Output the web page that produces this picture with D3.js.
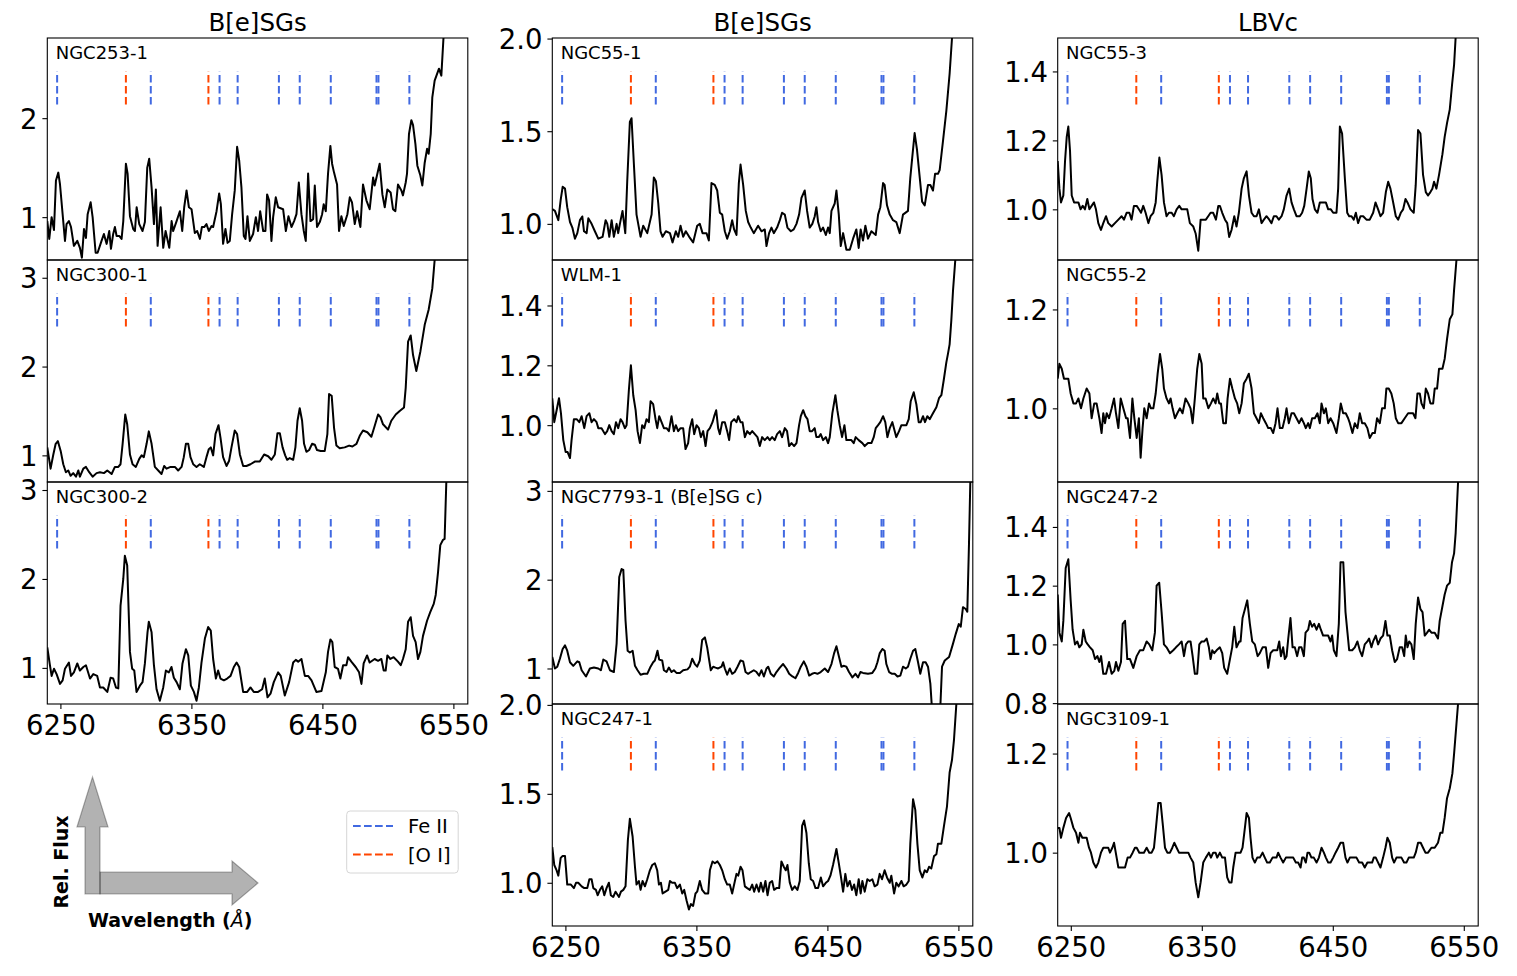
<!DOCTYPE html>
<html>
<meta charset="utf-8">
<head>
  <title>Fe II and [O I] spectra</title>
  <script src="https://d3js.org/d3.v7.min.js"></script>
</head>

<style>
body { margin: 0; background: white; }
text { font-family: "DejaVu Sans", sans-serif; fill: black; }
.plabel { font-size: 18px; }
.title { font-size: 24.5px; text-anchor: middle; }
.legend text { font-size: 19.5px; }
.note { font-size: 19px; font-weight: bold; }
</style>

<body>
<svg id="fig" width="1517" height="976"></svg>
<script>

// ---- line lists (Angstrom) ----
var feII = [6247.5, 6319.0, 6371.5, 6385.3, 6416.8, 6432.7, 6456.4, 6491.3, 6492.8, 6516.4];
var oI = [6300.0, 6363.0];

var xTicks = [6250, 6350, 6450, 6550];
var colTitles = ['B[e]SGs', 'B[e]SGs', 'LBVc'];

// ---- spectra [wavelength, relative flux] ----
var ngc253_1 = [[6240.0,0.96],[6241.5,0.78],[6243.3,1.00],[6245.1,0.87],[6246.6,1.37],[6248.4,1.45],[6249.7,1.33],[6253.5,0.76],[6254.7,0.93],[6256.5,0.96],[6258.1,0.90],[6260.3,0.71],[6262.9,0.76],[6264.9,0.69],[6266.4,0.59],[6268.0,0.88],[6269.5,0.79],[6270.8,1.03],[6273.1,1.15],[6274.6,1.00],[6276.9,0.64],[6278.4,0.64],[6281.4,0.76],[6283.2,0.83],[6285.3,0.73],[6287.3,0.86],[6288.6,0.68],[6290.3,0.83],[6291.6,0.90],[6292.9,0.81],[6294.9,0.81],[6296.7,0.78],[6298.0,0.96],[6300.0,1.54],[6301.3,1.44],[6303.1,1.01],[6305.6,0.88],[6306.9,0.86],[6308.2,1.10],[6310.2,0.93],[6312.7,0.86],[6314.5,0.95],[6316.3,1.50],[6317.8,1.59],[6319.6,1.30],[6321.4,0.93],[6322.9,1.28],[6324.2,0.71],[6326.5,1.10],[6328.5,0.69],[6330.3,0.86],[6333.1,0.69],[6334.9,0.96],[6336.1,0.86],[6338.7,0.96],[6341.2,1.06],[6343.0,0.86],[6344.5,1.10],[6346.3,1.27],[6348.1,1.10],[6350.1,1.08],[6352.6,0.84],[6354.4,0.86],[6356.5,0.78],[6358.0,0.90],[6359.8,0.90],[6361.5,0.93],[6363.3,0.86],[6365.4,0.91],[6366.6,0.90],[6369.2,1.06],[6371.2,1.24],[6372.5,1.13],[6374.2,0.73],[6376.0,0.88],[6377.6,0.74],[6379.3,0.76],[6381.1,1.03],[6383.1,1.27],[6384.9,1.71],[6386.5,1.57],[6388.2,1.30],[6390.0,0.81],[6391.3,0.78],[6392.8,1.01],[6394.6,0.76],[6397.1,0.83],[6399.2,1.00],[6400.9,0.86],[6402.5,1.06],[6404.8,0.86],[6406.5,0.86],[6407.8,1.23],[6409.3,1.17],[6411.1,0.76],[6412.4,1.00],[6414.4,1.20],[6416.2,1.10],[6420.0,1.08],[6422.1,0.86],[6424.1,1.01],[6426.4,0.90],[6428.4,0.96],[6430.2,1.03],[6432.0,1.35],[6434.0,1.03],[6435.8,0.86],[6437.3,0.76],[6439.1,1.44],[6440.9,0.96],[6442.9,0.98],[6444.2,1.32],[6445.9,0.90],[6448.0,0.95],[6449.8,1.03],[6451.0,1.13],[6452.6,1.06],[6454.3,1.44],[6456.1,1.72],[6457.4,1.54],[6458.9,1.45],[6461.2,1.33],[6462.7,0.86],[6464.5,1.01],[6466.3,0.91],[6469.1,1.03],[6470.9,1.20],[6472.6,1.15],[6474.7,0.93],[6476.5,1.06],[6479.0,0.90],[6481.0,1.33],[6483.6,1.17],[6486.1,1.08],[6488.7,1.40],[6489.9,1.32],[6493.7,1.54],[6495.8,1.23],[6497.6,1.10],[6499.6,1.28],[6502.1,1.25],[6503.9,1.08],[6505.7,1.06],[6507.7,1.33],[6510.3,1.27],[6511.5,1.22],[6513.6,1.35],[6514.6,1.44],[6516.1,1.84],[6517.9,1.98],[6519.2,1.93],[6521.0,1.74],[6522.5,1.52],[6524.8,1.42],[6526.3,1.32],[6528.1,1.55],[6529.9,1.69],[6531.1,1.64],[6532.7,1.84],[6533.9,2.21],[6535.7,2.38],[6539.0,2.50],[6540.8,2.43],[6542.6,2.85],[6545.0,3.50]];

var ngc300_1 = [[6240.0,1.09],[6242.5,0.85],[6244.6,1.01],[6246.4,1.13],[6248.1,1.16],[6250.2,1.05],[6252.2,0.90],[6254.2,0.81],[6256.0,0.83],[6257.8,0.77],[6259.8,0.80],[6261.9,0.76],[6263.7,0.83],[6264.9,0.76],[6267.5,0.85],[6269.5,0.87],[6272.0,0.81],[6274.6,0.76],[6277.6,0.80],[6280.2,0.81],[6283.2,0.80],[6285.8,0.83],[6289.1,0.79],[6291.6,0.87],[6294.2,0.87],[6295.9,0.90],[6297.5,1.13],[6299.5,1.46],[6301.0,1.35],[6303.1,1.01],[6305.1,0.90],[6307.6,0.87],[6310.2,0.96],[6312.0,1.00],[6313.7,0.98],[6315.8,1.13],[6317.5,1.27],[6319.6,1.13],[6322.1,0.87],[6324.7,0.83],[6327.2,0.79],[6329.2,0.88],[6331.0,0.85],[6334.1,0.87],[6337.4,0.87],[6339.9,0.83],[6342.5,0.87],[6344.2,0.98],[6345.8,1.13],[6347.6,1.13],[6349.3,0.98],[6351.4,0.90],[6353.9,0.87],[6356.4,0.90],[6359.5,0.87],[6361.5,0.98],[6363.3,1.07],[6364.8,1.09],[6366.6,1.00],[6368.4,1.24],[6370.7,1.34],[6372.2,1.20],[6374.2,0.98],[6376.8,0.88],[6378.8,0.94],[6380.6,1.09],[6383.1,1.28],[6384.9,1.24],[6387.0,1.01],[6389.5,0.88],[6392.0,0.88],[6395.1,0.90],[6398.4,0.93],[6402.2,0.93],[6405.5,1.01],[6408.6,0.99],[6411.1,0.95],[6413.7,1.01],[6415.7,1.25],[6417.5,1.25],[6419.6,1.09],[6421.6,1.00],[6423.1,0.95],[6425.1,0.97],[6427.7,0.95],[6429.4,1.09],[6431.0,1.39],[6432.7,1.53],[6434.5,1.39],[6436.0,1.13],[6437.8,1.04],[6439.9,1.06],[6442.1,1.13],[6444.2,1.12],[6445.9,1.06],[6448.7,1.05],[6451.8,1.05],[6453.8,1.24],[6455.1,1.69],[6457.1,1.67],[6458.9,1.31],[6460.7,1.11],[6463.2,1.08],[6467.0,1.09],[6470.4,1.11],[6472.9,1.10],[6476.0,1.13],[6478.5,1.22],[6481.0,1.28],[6484.3,1.26],[6487.4,1.21],[6489.9,1.33],[6492.5,1.46],[6494.3,1.43],[6496.3,1.35],[6500.1,1.29],[6502.6,1.39],[6506.0,1.46],[6509.0,1.50],[6512.3,1.54],[6513.6,1.76],[6515.4,2.28],[6517.4,2.35],[6519.2,2.13],[6521.7,1.95],[6524.8,2.17],[6528.1,2.47],[6531.1,2.64],[6533.9,2.88],[6535.7,3.20],[6538.0,3.60]];

var ngc300_2 = [[6240.0,1.23],[6242.0,1.03],[6243.3,0.91],[6245.1,0.99],[6247.1,0.93],[6249.7,0.82],[6251.7,0.86],[6253.5,0.99],[6256.5,1.06],[6258.1,0.91],[6260.3,0.95],[6262.9,1.05],[6264.9,0.97],[6267.5,1.01],[6269.5,1.03],[6272.6,0.88],[6275.1,0.93],[6278.1,0.91],[6280.2,0.78],[6282.7,0.78],[6285.8,0.73],[6288.3,0.89],[6290.3,0.88],[6292.4,0.78],[6294.2,0.77],[6295.9,1.70],[6298.0,2.00],[6299.2,2.26],[6301.0,2.15],[6303.1,1.18],[6304.8,0.99],[6306.4,0.97],[6308.1,0.73],[6310.7,0.80],[6312.7,0.84],[6314.5,1.05],[6316.5,1.40],[6317.5,1.52],[6319.6,1.40],[6321.4,1.03],[6323.4,0.76],[6325.9,0.63],[6328.5,0.78],[6330.5,0.97],[6332.8,0.95],[6334.8,1.01],[6336.6,0.89],[6338.7,0.84],[6341.2,0.76],[6343.2,1.05],[6345.8,1.21],[6347.6,1.14],[6349.6,0.80],[6351.9,0.73],[6353.9,0.63],[6355.7,0.78],[6357.7,1.06],[6360.3,1.33],[6362.8,1.46],[6364.8,1.42],[6366.6,1.10],[6368.7,0.88],[6370.4,0.97],[6372.2,0.88],[6374.8,0.86],[6377.3,0.88],[6379.9,0.91],[6382.4,1.01],[6384.5,1.06],[6386.5,1.01],[6389.5,0.73],[6392.6,0.73],[6395.1,0.78],[6397.6,0.73],[6400.9,0.73],[6404.0,0.76],[6406.0,0.88],[6408.1,0.67],[6410.4,0.71],[6412.9,0.84],[6416.2,0.95],[6418.2,0.91],[6421.3,0.69],[6424.6,0.84],[6427.7,1.06],[6429.7,1.09],[6431.5,1.07],[6434.0,1.10],[6436.6,0.91],[6439.1,0.91],[6441.7,0.86],[6445.4,0.73],[6449.3,0.74],[6452.6,0.95],[6454.3,1.18],[6456.1,1.32],[6457.6,1.29],[6459.4,1.01],[6461.9,0.99],[6463.7,0.88],[6465.8,1.03],[6468.3,1.03],[6469.6,1.12],[6472.1,1.07],[6475.4,1.01],[6478.0,0.95],[6479.8,0.82],[6481.5,1.05],[6484.1,1.14],[6486.1,1.06],[6489.9,1.10],[6492.5,1.08],[6495.0,1.10],[6496.8,0.97],[6498.3,0.97],[6499.6,1.14],[6501.9,1.10],[6504.4,1.12],[6507.7,1.07],[6509.8,1.03],[6511.5,1.10],[6513.6,1.21],[6515.4,1.52],[6517.4,1.57],[6519.2,1.36],[6521.2,1.29],[6523.0,1.10],[6524.8,1.18],[6526.8,1.36],[6529.9,1.53],[6532.4,1.63],[6535.0,1.72],[6536.5,1.82],[6538.3,2.08],[6540.0,2.38],[6542.1,2.44],[6543.3,2.45],[6544.6,3.09],[6546.0,3.60]];

var ngc55_1 = [[6240.0,1.08],[6242.0,1.07],[6244.6,1.02],[6246.4,1.13],[6247.9,1.20],[6249.7,1.19],[6251.4,1.09],[6253.5,1.01],[6255.3,0.98],[6257.3,0.92],[6259.1,0.95],[6261.1,1.02],[6262.9,1.04],[6264.2,0.96],[6266.2,0.95],[6267.5,1.03],[6270.0,1.00],[6272.5,0.96],[6275.1,0.92],[6278.4,0.93],[6280.7,1.02],[6282.0,1.00],[6283.5,0.93],[6285.3,1.02],[6287.0,0.93],[6289.1,1.00],[6290.3,0.95],[6291.6,1.00],[6293.6,1.07],[6295.7,0.95],[6297.2,1.23],[6299.2,1.55],[6300.5,1.57],[6302.3,1.32],[6304.3,1.05],[6307.4,0.93],[6309.4,0.99],[6312.5,0.95],[6315.8,1.05],[6317.5,1.25],[6319.1,1.23],[6320.9,1.11],[6322.6,0.96],[6324.2,0.93],[6326.7,0.96],[6329.8,0.95],[6331.8,0.90],[6334.3,0.96],[6336.1,0.93],[6337.9,0.99],[6339.9,0.93],[6341.9,0.96],[6344.5,0.93],[6347.5,0.90],[6350.6,0.99],[6352.6,1.00],[6354.7,0.95],[6357.7,0.95],[6359.5,0.91],[6361.5,1.22],[6364.0,1.21],[6365.9,1.18],[6367.9,1.06],[6369.7,1.05],[6371.7,0.96],[6373.5,0.92],[6375.5,0.96],[6377.3,1.02],[6378.8,0.97],[6380.6,0.94],[6382.4,1.22],[6383.7,1.32],[6385.7,1.21],[6387.7,1.07],[6389.5,1.01],[6391.5,0.98],[6393.8,0.95],[6397.1,0.99],[6399.7,0.96],[6402.2,0.97],[6403.5,0.88],[6405.5,0.95],[6407.3,0.98],[6409.1,0.95],[6411.6,0.98],[6413.7,1.02],[6415.4,1.06],[6417.5,1.05],[6419.5,0.98],[6422.1,0.96],[6424.3,0.97],[6426.4,1.00],[6428.4,1.05],[6430.2,1.14],[6432.7,1.18],[6434.5,1.07],[6436.5,0.98],[6438.5,1.00],[6440.3,1.04],[6441.6,1.09],[6442.9,1.01],[6444.9,0.96],[6446.7,0.98],[6448.8,0.94],[6450.5,0.98],[6451.8,0.95],[6453.1,1.07],[6455.6,1.11],[6456.9,1.18],[6458.7,1.05],[6460.2,0.88],[6462.0,0.95],[6464.5,0.86],[6467.1,0.86],[6469.6,0.92],[6472.1,0.97],[6473.9,0.87],[6475.4,0.97],[6477.2,0.91],[6479.0,0.99],[6481.0,0.92],[6483.6,0.96],[6486.9,0.94],[6488.7,1.05],[6490.4,1.09],[6492.5,1.22],[6493.7,1.21],[6495.5,1.10],[6497.6,1.05],[6500.1,1.02],[6502.6,1.01],[6505.2,0.95],[6507.7,1.05],[6511.5,1.07],[6513.3,1.25],[6514.8,1.36],[6516.6,1.49],[6518.4,1.40],[6520.5,1.25],[6522.3,1.12],[6524.3,1.10],[6526.8,1.21],[6528.6,1.21],[6530.6,1.18],[6532.2,1.27],[6534.4,1.27],[6535.7,1.29],[6538.3,1.45],[6540.8,1.61],[6543.3,1.81],[6545.1,2.00],[6547.0,2.30]];

var wlm_1 = [[6240.0,1.09],[6241.5,1.01],[6243.3,1.05],[6245.1,1.09],[6246.6,1.04],[6248.4,0.95],[6250.2,0.91],[6251.7,0.91],[6253.5,0.89],[6254.7,0.95],[6256.5,1.02],[6258.6,1.02],[6260.6,1.01],[6262.4,1.03],[6264.4,0.99],[6266.2,1.03],[6268.3,1.04],[6270.0,1.01],[6271.8,1.02],[6273.8,1.01],[6275.1,0.99],[6277.6,0.99],[6280.2,0.97],[6281.9,0.98],[6283.5,1.00],[6285.3,0.98],[6287.0,0.97],[6288.6,1.01],[6290.3,0.99],[6292.1,1.02],[6293.6,1.01],[6295.4,0.99],[6296.7,1.00],[6298.5,1.12],[6300.0,1.20],[6301.8,1.10],[6303.6,1.05],[6305.1,0.98],[6306.9,0.94],[6308.6,1.00],[6310.2,0.99],[6311.9,1.02],[6313.7,1.01],[6315.0,1.08],[6317.0,1.07],[6318.8,1.02],[6320.1,0.99],[6321.6,1.03],[6323.4,1.01],[6325.2,0.99],[6327.2,0.99],[6329.0,0.98],[6331.0,1.03],[6332.8,0.98],[6334.3,1.00],[6336.1,0.98],[6337.9,0.99],[6339.9,0.99],[6341.7,0.92],[6343.7,0.94],[6345.0,0.99],[6346.8,1.02],[6348.3,0.97],[6350.1,1.00],[6351.9,0.99],[6353.4,0.96],[6355.2,0.98],[6357.0,0.93],[6358.5,0.98],[6360.3,0.99],[6362.3,1.01],[6363.6,1.03],[6365.1,1.05],[6366.6,0.99],[6367.9,0.97],[6369.7,1.01],[6371.7,1.01],[6373.5,0.98],[6375.0,0.95],[6376.6,1.01],[6378.8,1.02],[6380.6,1.01],[6381.9,1.03],[6383.7,1.01],[6385.2,1.01],[6387.0,0.96],[6388.8,0.98],[6390.8,0.97],[6392.6,0.98],[6394.6,0.97],[6396.6,0.96],[6398.4,0.93],[6400.2,0.96],[6402.2,0.95],[6404.3,0.96],[6406.0,0.95],[6407.8,0.96],[6409.8,0.95],[6411.6,0.97],[6413.7,0.98],[6415.4,0.96],[6417.5,0.99],[6419.2,0.98],[6420.8,0.93],[6422.6,0.94],[6424.6,0.93],[6426.4,0.94],[6428.4,1.00],[6429.7,1.03],[6431.5,1.05],[6433.2,1.03],[6434.8,1.02],[6436.5,0.98],[6438.3,0.98],[6440.3,0.99],[6441.6,0.96],[6443.4,0.96],[6444.9,0.97],[6446.7,0.95],[6448.8,0.96],[6450.5,0.94],[6451.8,0.96],[6453.8,1.04],[6456.1,1.10],[6457.6,1.05],[6459.4,1.00],[6461.2,0.96],[6463.0,1.00],[6464.5,0.95],[6466.5,0.95],[6468.3,0.95],[6470.1,0.94],[6471.6,0.96],[6473.9,0.95],[6476.7,0.94],[6478.5,0.93],[6481.0,0.94],[6483.6,0.94],[6485.4,0.96],[6486.9,0.99],[6488.7,1.00],[6490.4,1.01],[6492.5,1.03],[6494.2,1.01],[6495.8,0.96],[6497.6,0.99],[6499.6,1.01],[6501.4,0.98],[6502.6,0.96],[6504.7,0.98],[6506.5,1.00],[6508.5,1.00],[6510.3,1.00],[6512.1,1.02],[6513.6,1.08],[6515.9,1.11],[6517.9,1.07],[6519.7,1.01],[6521.2,1.01],[6523.0,1.03],[6524.5,1.01],[6526.3,1.03],[6528.1,1.02],[6530.6,1.04],[6533.2,1.06],[6535.2,1.09],[6537.0,1.10],[6538.8,1.15],[6540.8,1.21],[6542.1,1.24],[6543.3,1.27],[6544.6,1.35],[6545.9,1.45],[6547.6,1.55],[6549.0,1.70]];

var ngc7793_1 = [[6240.0,1.13],[6242.0,1.00],[6243.8,1.02],[6245.8,1.11],[6247.9,1.22],[6249.7,1.26],[6251.4,1.20],[6253.5,1.07],[6256.0,1.03],[6259.1,1.08],[6260.6,1.07],[6262.4,0.98],[6265.7,0.91],[6268.7,1.00],[6271.8,1.01],[6275.1,1.00],[6277.1,0.98],[6278.9,1.10],[6281.4,1.08],[6284.0,0.98],[6287.0,0.96],[6289.1,1.28],[6291.1,2.03],[6292.9,2.12],[6294.2,2.11],[6295.9,1.54],[6297.5,1.20],[6299.2,1.18],[6301.3,1.20],[6303.1,1.03],[6305.1,0.98],[6307.4,0.93],[6309.9,0.94],[6312.5,0.94],[6315.0,1.02],[6317.0,1.07],[6318.3,1.09],[6320.3,1.20],[6321.6,1.10],[6323.9,1.09],[6325.2,0.98],[6327.2,0.96],[6329.0,1.01],[6331.0,0.96],[6332.8,0.98],[6334.8,0.95],[6337.4,0.95],[6339.9,0.98],[6343.2,0.99],[6345.0,1.02],[6346.8,1.11],[6348.8,1.05],[6350.6,1.02],[6352.6,1.09],[6354.4,1.32],[6356.5,1.35],[6358.2,1.24],[6359.8,1.09],[6361.0,0.98],[6362.8,1.02],[6364.6,1.01],[6366.6,1.00],[6369.2,1.02],[6370.4,1.07],[6371.7,1.00],[6373.5,0.93],[6375.5,1.00],[6377.3,0.94],[6379.3,0.96],[6381.4,1.02],[6383.7,1.09],[6385.7,1.08],[6387.5,0.96],[6389.5,0.94],[6391.5,0.96],[6393.8,0.98],[6395.9,0.96],[6397.9,0.92],[6399.7,0.98],[6401.5,0.91],[6403.5,1.00],[6404.8,1.02],[6406.8,0.94],[6409.1,0.91],[6411.1,0.96],[6413.7,1.01],[6416.2,1.05],[6418.7,1.00],[6420.8,0.94],[6423.3,0.91],[6425.6,0.89],[6427.7,0.95],[6429.7,1.02],[6432.0,1.08],[6434.0,1.02],[6436.1,0.92],[6438.3,0.94],[6440.3,0.95],[6442.4,0.94],[6444.9,0.96],[6448.0,1.00],[6450.5,0.96],[6453.1,1.05],[6455.1,1.17],[6456.9,1.25],[6458.9,1.13],[6460.7,1.02],[6462.7,1.03],[6464.5,1.02],[6466.5,0.96],[6469.1,0.90],[6471.4,0.94],[6473.4,0.90],[6475.2,0.96],[6477.2,0.95],[6481.0,0.94],[6484.3,0.95],[6486.6,1.00],[6488.2,1.07],[6489.9,1.17],[6492.0,1.22],[6493.7,1.20],[6495.0,1.05],[6497.1,0.96],[6499.4,0.94],[6501.4,0.94],[6503.5,0.91],[6505.7,0.92],[6507.7,1.02],[6509.8,1.00],[6511.5,1.02],[6513.3,1.11],[6515.4,1.20],[6517.1,1.22],[6519.2,1.07],[6520.9,0.94],[6523.0,1.07],[6525.0,1.07],[6526.8,1.02],[6528.6,0.83],[6529.9,0.53],[6533.2,0.30],[6536.2,0.56],[6537.5,1.02],[6539.6,1.09],[6542.9,1.13],[6545.9,1.28],[6548.0,1.39],[6550.3,1.50],[6551.8,1.47],[6553.5,1.69],[6555.6,1.67],[6556.8,1.64],[6558.1,2.41],[6559.1,3.10],[6560.0,3.60]];

var ngc247_1 = [[6240.0,1.20],[6241.5,1.10],[6243.3,1.07],[6244.6,1.04],[6246.4,1.14],[6247.9,1.15],[6249.7,1.15],[6251.4,0.99],[6254.2,0.99],[6256.5,0.97],[6258.1,1.00],[6259.8,1.00],[6262.4,0.98],[6264.4,0.97],[6266.7,0.97],[6268.3,1.02],[6270.0,1.02],[6271.3,0.97],[6273.3,0.96],[6274.6,0.93],[6276.4,0.96],[6278.1,0.98],[6279.7,0.93],[6281.4,0.97],[6283.2,1.00],[6284.7,0.93],[6286.5,0.92],[6288.3,0.95],[6290.9,0.92],[6292.4,0.95],[6294.2,0.96],[6295.9,0.98],[6297.7,1.24],[6299.2,1.36],[6301.3,1.26],[6303.1,1.09],[6304.3,0.99],[6306.1,1.01],[6307.4,0.96],[6308.9,1.01],[6310.7,0.98],[6312.5,1.02],[6314.5,1.07],[6316.3,1.10],[6318.3,1.11],[6320.1,1.07],[6321.4,0.99],[6322.9,1.00],[6324.2,0.94],[6326.4,0.95],[6328.5,0.96],[6329.8,1.01],[6331.5,1.00],[6333.6,1.00],[6335.3,0.97],[6337.4,0.99],[6339.2,0.94],[6340.7,0.96],[6342.5,0.90],[6344.3,0.85],[6345.8,0.88],[6347.5,0.87],[6349.3,0.94],[6350.6,0.95],[6352.6,1.01],[6354.4,0.96],[6356.5,0.94],[6359.0,0.94],[6360.3,1.07],[6362.3,1.12],[6364.1,1.11],[6366.1,1.12],[6367.9,1.10],[6369.7,1.07],[6371.7,1.02],[6373.5,0.99],[6375.5,0.99],[6377.3,0.94],[6378.8,0.99],[6380.6,1.05],[6381.9,1.04],[6383.7,1.09],[6385.2,1.07],[6387.0,0.98],[6388.8,0.97],[6390.8,0.96],[6392.6,0.99],[6394.1,0.95],[6395.9,0.99],[6397.7,0.95],[6399.2,1.00],[6401.0,0.95],[6402.7,1.01],[6404.3,0.93],[6406.0,1.00],[6407.8,1.01],[6409.3,0.96],[6411.1,0.97],[6413.2,0.97],[6414.9,1.12],[6416.7,1.09],[6418.2,1.07],[6419.5,1.10],[6421.3,1.00],[6423.1,0.96],[6425.1,0.98],[6427.1,0.96],[6428.9,1.01],[6430.7,1.32],[6432.2,1.35],[6434.0,1.28],[6435.8,1.11],[6437.3,1.02],[6439.1,1.01],[6440.9,0.97],[6442.9,0.97],[6445.0,1.03],[6446.7,0.98],[6448.8,1.00],[6450.5,1.01],[6452.3,1.04],[6454.3,1.10],[6456.9,1.19],[6458.7,1.11],[6460.2,1.04],[6462.0,0.95],[6463.7,1.05],[6465.3,0.98],[6467.1,1.01],[6468.8,0.96],[6470.4,0.99],[6472.1,0.93],[6473.9,1.02],[6475.4,0.94],[6476.7,1.01],[6478.5,0.95],[6480.5,1.02],[6482.3,1.01],[6484.3,1.02],[6486.1,0.98],[6488.2,0.99],[6489.9,1.05],[6491.7,1.02],[6493.7,1.07],[6495.5,1.03],[6497.6,1.00],[6498.8,1.04],[6500.9,0.94],[6502.6,1.00],[6504.4,0.98],[6506.5,1.01],[6508.2,0.98],[6510.3,0.99],[6512.1,1.01],[6513.3,1.22],[6515.4,1.47],[6517.1,1.41],[6518.7,1.22],[6520.5,1.07],[6522.5,1.03],[6524.3,1.07],[6526.0,1.06],[6527.6,1.09],[6529.3,1.08],[6531.4,1.15],[6533.2,1.16],[6534.4,1.22],[6537.0,1.22],[6539.0,1.32],[6541.3,1.43],[6543.3,1.62],[6545.1,1.69],[6546.6,1.80],[6548.4,2.00],[6550.0,2.30]];

var ngc55_3 = [[6240.0,1.14],[6241.3,1.06],[6242.5,1.02],[6244.3,1.04],[6245.6,1.14],[6246.9,1.21],[6248.1,1.24],[6249.4,1.17],[6250.7,1.04],[6252.5,1.02],[6253.9,1.02],[6255.8,1.02],[6257.5,1.00],[6259.1,1.01],[6260.8,1.00],[6262.6,1.03],[6264.2,1.00],[6265.9,1.01],[6267.7,1.02],[6269.2,1.00],[6271.0,0.96],[6273.0,0.94],[6274.8,0.96],[6276.9,0.98],[6278.6,0.96],[6281.2,0.95],[6283.7,0.96],[6286.3,0.97],[6288.8,0.98],[6290.6,0.97],[6292.6,0.99],[6294.7,0.99],[6296.4,0.97],[6298.2,1.01],[6300.3,1.01],[6302.0,1.00],[6303.6,0.99],[6305.3,1.01],[6307.1,0.99],[6309.2,0.96],[6310.9,0.98],[6313.0,0.99],[6314.8,1.02],[6316.0,1.08],[6317.6,1.15],[6319.3,1.10],[6321.1,1.02],[6323.1,0.98],[6324.9,0.99],[6327.0,0.99],[6328.7,0.98],[6330.8,1.00],[6332.8,1.01],[6334.6,1.00],[6336.6,1.00],[6338.9,1.00],[6340.9,0.96],[6343.5,0.95],[6345.3,0.93],[6347.3,0.88],[6349.1,0.97],[6351.1,0.97],[6353.1,0.97],[6354.9,0.98],[6356.7,0.99],[6358.7,0.99],[6360.8,0.97],[6362.6,1.01],[6363.8,1.01],[6365.6,0.99],[6367.7,0.97],[6369.4,0.96],[6370.9,0.92],[6372.7,0.94],[6374.8,0.98],[6376.5,0.95],[6378.3,0.99],[6380.4,1.06],[6382.1,1.09],[6384.2,1.11],[6386.0,1.04],[6388.0,0.99],[6389.8,0.98],[6391.8,0.98],[6393.6,1.00],[6395.6,0.96],[6397.4,0.97],[6399.4,0.98],[6401.5,0.97],[6403.2,0.96],[6405.0,0.98],[6407.0,0.98],[6408.8,0.97],[6410.9,0.98],[6412.6,1.00],[6414.7,1.04],[6416.7,1.06],[6418.5,1.02],[6420.3,1.00],[6422.3,0.98],[6424.8,0.98],[6426.6,0.99],[6428.2,1.01],[6430.0,1.06],[6431.7,1.11],[6433.2,1.09],[6434.5,1.03],[6436.3,1.00],[6438.3,0.99],[6440.1,1.02],[6442.6,1.02],[6444.7,1.02],[6446.5,1.00],[6448.5,1.00],[6450.3,0.99],[6452.8,0.99],[6454.1,1.06],[6455.4,1.24],[6457.1,1.22],[6459.2,1.09],[6461.0,0.99],[6462.5,0.98],[6464.3,0.98],[6466.0,0.97],[6467.6,0.99],[6469.3,0.96],[6471.1,0.98],[6473.2,0.98],[6475.7,0.97],[6478.2,0.97],[6480.8,0.99],[6482.6,1.02],[6484.6,1.00],[6486.4,0.98],[6488.4,0.99],[6490.5,1.05],[6492.3,1.08],[6494.0,1.06],[6496.1,1.02],[6498.1,0.98],[6499.9,0.97],[6501.9,0.99],[6503.7,1.00],[6505.5,1.03],[6507.0,1.02],[6509.3,1.00],[6511.8,0.99],[6513.3,1.07],[6515.1,1.23],[6516.9,1.22],[6518.9,1.10],[6521.0,1.05],[6522.7,1.04],[6524.5,1.05],[6526.0,1.06],[6527.3,1.08],[6529.1,1.06],[6531.1,1.10],[6533.7,1.16],[6535.4,1.21],[6537.2,1.25],[6539.3,1.29],[6541.0,1.36],[6542.6,1.42],[6543.8,1.50],[6545.0,1.65]];

var ngc55_2 = [[6240.0,1.06],[6241.3,1.09],[6243.1,1.08],[6244.8,1.06],[6246.4,1.06],[6248.1,1.06],[6249.9,1.03],[6252.0,1.01],[6254.0,1.01],[6255.8,1.02],[6257.8,1.00],[6259.6,1.02],[6262.1,1.04],[6264.2,1.03],[6265.9,0.98],[6267.9,1.01],[6269.7,1.01],[6271.8,0.98],[6273.5,0.95],[6274.8,0.99],[6276.1,0.97],[6277.4,0.99],[6279.2,0.98],[6281.2,1.00],[6283.0,1.02],[6284.5,0.99],[6286.3,0.96],[6288.1,1.02],[6290.1,1.00],[6292.2,0.98],[6293.4,0.98],[6295.2,0.94],[6297.0,1.02],[6298.5,0.98],[6300.3,0.94],[6302.0,0.98],[6303.3,0.90],[6304.8,0.96],[6306.1,1.00],[6307.9,0.98],[6309.7,1.01],[6311.2,1.00],[6313.0,1.00],[6314.8,1.03],[6316.3,1.07],[6318.1,1.11],[6319.8,1.08],[6321.1,1.04],[6323.1,1.02],[6324.9,1.01],[6326.2,1.02],[6327.7,1.00],[6329.5,0.98],[6331.3,0.99],[6333.3,1.00],[6335.3,0.99],[6337.6,1.02],[6339.7,1.01],[6341.4,1.00],[6343.0,0.97],[6344.7,1.02],[6346.5,1.08],[6348.1,1.11],[6349.9,1.09],[6351.1,1.02],[6352.9,1.02],[6355.0,1.00],[6357.0,1.01],[6358.7,1.02],[6360.5,1.01],[6361.8,1.03],[6363.3,1.01],[6364.6,1.01],[6366.4,0.97],[6368.4,0.97],[6369.7,1.02],[6371.5,1.06],[6373.3,1.04],[6375.3,1.02],[6377.0,1.01],[6378.6,0.99],[6380.4,1.01],[6382.1,1.05],[6384.2,1.06],[6385.9,1.07],[6388.0,1.04],[6389.8,0.99],[6391.8,0.98],[6393.6,0.97],[6395.1,0.99],[6396.9,0.98],[6398.9,0.97],[6400.7,0.96],[6402.7,0.96],[6404.5,0.95],[6406.3,0.97],[6407.8,1.00],[6409.6,0.96],[6411.6,0.96],[6413.4,0.98],[6414.7,1.00],[6416.4,0.97],[6418.5,0.99],[6420.3,0.99],[6422.3,0.98],[6424.3,0.97],[6426.1,0.98],[6427.9,0.97],[6429.4,0.96],[6431.2,0.97],[6432.5,0.96],[6434.2,0.98],[6436.3,0.98],[6438.3,0.99],[6440.1,0.97],[6441.4,1.01],[6443.2,0.99],[6444.7,1.00],[6446.5,0.97],[6448.3,0.98],[6450.3,0.97],[6452.8,0.95],[6454.6,0.98],[6456.1,1.01],[6457.9,0.99],[6459.9,0.99],[6461.7,0.98],[6463.0,0.97],[6465.0,0.95],[6466.8,0.97],[6468.8,0.96],[6470.6,0.99],[6472.4,0.97],[6474.4,0.97],[6476.4,0.96],[6478.2,0.94],[6480.3,0.95],[6482.1,0.95],[6483.8,0.98],[6485.9,0.97],[6487.6,1.00],[6489.7,1.00],[6490.9,1.04],[6492.7,1.04],[6494.7,1.03],[6496.5,1.01],[6498.1,0.98],[6499.9,0.97],[6502.4,0.97],[6504.9,0.98],[6507.5,0.99],[6510.0,0.99],[6511.3,0.99],[6513.1,0.98],[6514.6,1.03],[6516.4,1.03],[6517.7,1.01],[6519.5,1.00],[6521.0,1.04],[6522.7,1.03],[6524.5,1.01],[6526.6,1.01],[6527.8,1.04],[6529.6,1.04],[6531.1,1.08],[6533.7,1.08],[6535.4,1.10],[6537.2,1.14],[6539.3,1.18],[6541.3,1.19],[6542.6,1.24],[6544.4,1.30],[6546.0,1.40]];

var ngc247_2 = [[6240.0,1.17],[6241.3,1.04],[6243.1,1.01],[6244.3,1.08],[6246.1,1.26],[6248.1,1.29],[6249.9,1.15],[6251.4,1.05],[6253.2,1.00],[6255.0,1.01],[6256.5,0.99],[6258.3,1.00],[6259.6,1.05],[6261.4,1.01],[6262.9,1.00],[6264.7,0.99],[6266.7,0.98],[6268.5,0.95],[6270.3,0.96],[6271.8,0.94],[6273.1,0.96],[6274.8,0.90],[6276.9,0.90],[6279.2,0.94],[6281.2,0.90],[6283.2,0.91],[6284.5,0.94],[6286.3,0.91],[6288.3,0.94],[6289.6,1.07],[6291.4,1.08],[6293.1,0.95],[6295.2,0.95],[6297.7,0.92],[6300.3,0.96],[6302.8,0.98],[6305.3,0.98],[6307.9,1.01],[6309.9,1.00],[6312.2,0.98],[6314.2,1.04],[6315.5,1.20],[6317.5,1.21],[6319.3,1.11],[6321.1,1.00],[6323.1,0.99],[6325.7,0.97],[6328.2,0.98],[6330.3,0.99],[6332.6,1.00],[6334.6,1.01],[6336.4,0.96],[6337.9,1.00],[6339.7,1.01],[6341.4,1.01],[6343.0,0.96],[6344.7,0.90],[6346.5,0.90],[6348.1,1.00],[6349.9,1.01],[6351.9,1.01],[6353.7,1.02],[6355.4,0.99],[6356.7,0.95],[6358.0,0.98],[6359.5,0.97],[6361.3,0.98],[6363.8,0.99],[6365.6,0.97],[6367.1,0.92],[6369.4,0.90],[6371.5,0.95],[6373.2,0.99],[6374.8,1.06],[6376.5,0.99],[6378.6,1.01],[6379.6,1.01],[6381.1,1.09],[6382.9,1.12],[6384.7,1.15],[6386.7,1.07],[6388.5,1.01],[6390.5,1.00],[6392.6,0.96],[6394.3,0.97],[6396.4,0.99],[6398.9,0.99],[6400.7,0.92],[6402.5,0.97],[6404.5,0.98],[6405.8,0.98],[6407.6,0.98],[6409.1,1.01],[6410.4,0.96],[6412.1,0.99],[6413.4,0.95],[6414.7,0.96],[6416.0,1.02],[6417.7,1.09],[6419.3,0.99],[6421.0,0.99],[6422.8,0.96],[6424.3,0.99],[6426.1,0.99],[6427.9,0.96],[6429.2,1.04],[6431.2,1.05],[6432.5,1.08],[6434.2,1.06],[6435.8,1.07],[6437.6,1.05],[6439.4,1.07],[6440.9,1.05],[6442.6,1.03],[6444.7,1.03],[6446.5,1.03],[6448.2,1.01],[6449.5,1.03],[6450.8,0.98],[6452.8,0.96],[6454.6,1.07],[6455.9,1.28],[6458.0,1.28],[6459.7,1.11],[6461.2,1.04],[6462.5,0.98],[6464.8,0.98],[6466.8,0.99],[6468.8,1.01],[6470.6,0.98],[6472.4,0.96],[6474.4,1.00],[6476.4,1.01],[6477.7,1.02],[6479.5,0.99],[6480.8,1.01],[6482.8,1.03],[6484.6,1.00],[6486.4,1.02],[6488.4,1.03],[6490.2,1.08],[6491.7,1.03],[6493.5,1.03],[6495.3,0.98],[6497.3,0.94],[6499.1,0.95],[6501.1,0.99],[6502.9,0.99],[6504.5,0.96],[6505.7,1.03],[6507.0,0.99],[6508.3,1.01],[6510.0,1.00],[6511.8,0.95],[6513.3,1.07],[6515.1,1.16],[6516.9,1.12],[6518.5,1.11],[6520.2,1.03],[6522.0,1.04],[6523.5,1.05],[6525.3,1.04],[6527.8,1.04],[6530.3,1.02],[6531.6,1.08],[6533.7,1.13],[6535.4,1.17],[6537.2,1.20],[6539.3,1.21],[6541.0,1.28],[6542.6,1.31],[6543.8,1.38],[6545.6,1.55],[6547.0,1.70]];

var ngc3109_1 = [[6240.0,1.05],[6241.3,1.05],[6242.5,1.03],[6244.3,1.05],[6246.4,1.07],[6248.7,1.08],[6249.9,1.07],[6252.0,1.05],[6254.0,1.04],[6255.8,1.02],[6257.0,1.04],[6258.8,1.03],[6260.3,1.03],[6262.1,1.03],[6263.9,1.01],[6265.4,1.00],[6267.2,0.98],[6269.2,0.97],[6271.0,0.98],[6273.0,1.00],[6274.8,1.01],[6276.9,1.01],[6278.6,1.01],[6279.9,1.00],[6281.7,1.01],[6283.0,1.02],[6285.0,0.99],[6286.3,0.97],[6288.8,0.97],[6291.4,0.97],[6293.4,0.99],[6295.2,0.99],[6297.2,1.00],[6299.0,1.01],[6300.3,1.01],[6302.3,1.00],[6304.1,1.00],[6305.8,1.00],[6307.9,1.01],[6309.9,1.00],[6311.7,1.00],[6313.5,1.01],[6315.0,1.05],[6316.8,1.10],[6318.6,1.10],[6320.1,1.06],[6321.9,1.01],[6323.7,1.00],[6325.7,1.00],[6327.5,1.01],[6329.0,1.02],[6330.8,1.01],[6332.6,1.00],[6334.1,1.00],[6335.9,1.00],[6337.9,1.00],[6339.7,1.00],[6341.4,0.99],[6343.5,0.98],[6345.3,0.94],[6347.3,0.91],[6349.1,0.94],[6351.1,0.98],[6353.1,0.99],[6355.4,1.00],[6357.0,0.99],[6358.7,1.00],[6360.5,1.00],[6361.8,0.99],[6363.8,1.00],[6365.6,0.99],[6367.7,0.99],[6369.4,0.95],[6371.0,0.94],[6372.7,0.94],[6374.0,0.97],[6375.8,1.00],[6377.8,1.00],[6379.6,1.00],[6381.1,1.01],[6382.9,1.05],[6384.2,1.08],[6386.0,1.07],[6387.2,1.03],[6388.7,0.99],[6390.5,0.98],[6392.3,0.99],[6394.3,0.99],[6396.4,1.00],[6398.1,0.99],[6399.9,0.98],[6401.9,0.98],[6404.0,0.99],[6405.3,0.99],[6407.0,0.99],[6408.3,1.00],[6410.1,0.99],[6412.1,0.98],[6414.2,0.99],[6415.9,0.99],[6418.0,0.99],[6419.8,0.99],[6421.8,0.98],[6423.6,0.98],[6425.4,0.97],[6426.6,0.99],[6427.9,0.99],[6429.4,0.98],[6430.7,1.00],[6432.0,1.00],[6433.7,0.99],[6435.5,0.99],[6437.6,0.98],[6439.4,0.99],[6441.4,1.01],[6443.2,1.00],[6444.7,0.99],[6446.5,0.98],[6448.3,0.98],[6450.3,0.99],[6452.1,1.00],[6454.1,1.01],[6455.9,1.02],[6457.9,1.02],[6459.7,0.99],[6461.2,0.98],[6463.0,0.99],[6464.8,0.99],[6466.3,0.99],[6468.1,0.99],[6470.1,0.98],[6472.4,0.98],[6474.4,0.97],[6476.4,0.98],[6478.2,0.98],[6480.0,0.98],[6481.3,0.99],[6482.8,0.99],[6484.6,0.98],[6486.4,0.97],[6488.4,0.99],[6490.2,1.01],[6491.7,1.03],[6493.5,1.02],[6495.3,0.99],[6496.8,0.98],[6498.6,0.99],[6500.6,0.99],[6502.4,0.99],[6504.4,0.98],[6506.2,0.98],[6508.0,0.99],[6509.5,0.99],[6511.8,0.99],[6513.3,1.00],[6515.1,1.02],[6517.1,1.02],[6518.9,1.01],[6520.7,1.00],[6522.7,1.00],[6525.3,1.01],[6527.8,1.01],[6530.3,1.02],[6532.1,1.04],[6533.7,1.04],[6535.4,1.07],[6537.2,1.11],[6539.3,1.13],[6541.3,1.16],[6542.6,1.20],[6544.4,1.26],[6545.6,1.30],[6547.0,1.40]];

// ---- panels: column, row, name, spectrum, y range, y ticks ----
var panels = [
  {col: 0, row: 0, name: 'NGC253-1', data: ngc253_1, ylim: [0.567, 2.81], ticks: [1, 2], labels: ['1', '2']},
  {col: 0, row: 1, name: 'NGC300-1', data: ngc300_1, ylim: [0.70, 3.20], ticks: [1, 2, 3], labels: ['1', '2', '3']},
  {col: 0, row: 2, name: 'NGC300-2', data: ngc300_2, ylim: [0.594, 3.09], ticks: [1, 2, 3], labels: ['1', '2', '3'], xaxis: true},
  {col: 1, row: 0, name: 'NGC55-1', data: ngc55_1, ylim: [0.805, 2.003], ticks: [1.0, 1.5, 2.0], labels: ['1.0', '1.5', '2.0']},
  {col: 1, row: 1, name: 'WLM-1', data: wlm_1, ylim: [0.81, 1.552], ticks: [1.0, 1.2, 1.4], labels: ['1.0', '1.2', '1.4']},
  {col: 1, row: 2, name: 'NGC7793-1 (B[e]SG c)', data: ngc7793_1, ylim: [0.60, 3.10], ticks: [1, 2, 3], labels: ['1', '2', '3']},
  {col: 1, row: 3, name: 'NGC247-1', data: ngc247_1, ylim: [0.757, 2.005], ticks: [1.0, 1.5, 2.0], labels: ['1.0', '1.5', '2.0'], xaxis: true},
  {col: 2, row: 0, name: 'NGC55-3', data: ngc55_3, ylim: [0.853, 1.497], ticks: [1.0, 1.2, 1.4], labels: ['1.0', '1.2', '1.4']},
  {col: 2, row: 1, name: 'NGC55-2', data: ngc55_2, ylim: [0.851, 1.30], ticks: [1.0, 1.2], labels: ['1.0', '1.2']},
  {col: 2, row: 2, name: 'NGC247-2', data: ngc247_2, ylim: [0.797, 1.553], ticks: [0.8, 1.0, 1.2, 1.4], labels: ['0.8', '1.0', '1.2', '1.4']},
  {col: 2, row: 3, name: 'NGC3109-1', data: ngc3109_1, ylim: [0.852, 1.30], ticks: [1.0, 1.2], labels: ['1.0', '1.2'], xaxis: true}
];

// ---- layout ----
var colLeft = [47.3, 552.3, 1057.7];
var colWidth = 420.5;
var rowTop = [38, 260, 482, 704];
var rowHeight = 222;
var xlim = [6240, 6561];

var svg = d3.select('#fig');
var defs = svg.append('defs');

var lineGen = d3.line()
  .x(function(d) { return d[0]; })
  .y(function(d) { return d[1]; });

panels.forEach(function(p, i) {
  var left = colLeft[p.col], top = rowTop[p.row];
  var x = d3.scaleLinear().domain(xlim).range([left, left + colWidth]);
  var y = d3.scaleLinear().domain(p.ylim).range([top + rowHeight, top]);

  defs.append('clipPath').attr('id', 'clip' + i)
    .append('rect')
    .attr('x', left).attr('y', top)
    .attr('width', colWidth).attr('height', rowHeight);

  var g = svg.append('g');
  var plot = g.append('g').attr('clip-path', 'url(#clip' + i + ')');

  // spectrum
  plot.append('path')
    .attr('d', lineGen(p.data.map(function(d) { return [x(d[0]), y(d[1])]; })))
    .attr('fill', 'none')
    .attr('stroke', 'black')
    .attr('stroke-width', 2)
    .attr('stroke-linejoin', 'round');

  // line markers, 0.70 - 0.85 of the axes height
  var y0 = top + rowHeight * 0.30, y1 = top + rowHeight * 0.15;
  function markers(list, colour) {
    plot.selectAll(null)
      .data(list)
      .enter()
      .append('line')
      .attr('x1', function(d) { return x(d); })
      .attr('x2', function(d) { return x(d); })
      .attr('y1', y0).attr('y2', y1)
      .attr('stroke', colour)
      .attr('stroke-width', 2)
      .attr('stroke-dasharray', '7.7,3.3');
  }
  markers(feII, 'royalblue');
  markers(oI, 'orangered');

  // y axis
  var yAxis = g.append('g')
    .attr('transform', 'translate(' + left + ',0)')
    .call(d3.axisLeft(y).tickValues(p.ticks).tickSize(4.9).tickPadding(4.9)
      .tickFormat(function(d, k) { return p.labels[k]; }));
  yAxis.select('.domain').remove();
  yAxis.selectAll('line').attr('stroke-width', 1.1);
  yAxis.selectAll('text')
    .attr('font-size', 27.5)
    .attr('font-family', '"DejaVu Sans", sans-serif')
    .attr('dy', '0.36em');

  // x axis on the bottom panel of each column
  if (p.xaxis) {
    var xAxis = g.append('g')
      .attr('transform', 'translate(0,' + (top + rowHeight) + ')')
      .call(d3.axisBottom(x).tickValues(xTicks).tickSize(4.9).tickPadding(4.9)
        .tickFormat(d3.format('d')));
    xAxis.select('.domain').remove();
    xAxis.selectAll('line').attr('stroke-width', 1.1);
    xAxis.selectAll('text')
      .attr('font-size', 27.5)
      .attr('font-family', '"DejaVu Sans", sans-serif')
      .attr('dy', '0.76em');
  }

  // frame
  g.append('rect')
    .attr('x', left).attr('y', top)
    .attr('width', colWidth).attr('height', rowHeight)
    .attr('fill', 'none')
    .attr('stroke', 'black')
    .attr('stroke-width', 1.1);

  g.append('text')
    .attr('class', 'plabel')
    .attr('x', left + 8.4)
    .attr('y', top + 21)
    .text(p.name);
});

// column titles
svg.selectAll('.title')
  .data(colTitles)
  .enter()
  .append('text')
  .attr('class', 'title')
  .attr('x', function(d, i) { return colLeft[i] + colWidth / 2; })
  .attr('y', 31)
  .text(function(d) { return d; });

// ---- legend ----
var legend = svg.append('g').attr('class', 'legend');
legend.append('rect')
  .attr('x', 346.7).attr('y', 811)
  .attr('width', 111.5).attr('height', 62)
  .attr('rx', 3.5)
  .attr('fill', 'white')
  .attr('stroke', '#d6d6d6')
  .attr('stroke-width', 1);
var legendItems = [{label: 'Fe II', colour: 'royalblue'}, {label: '[O I]', colour: 'orangered'}];
legendItems.forEach(function(item, k) {
  var ly = 826 + k * 28.5;
  legend.append('line')
    .attr('x1', 353).attr('x2', 393)
    .attr('y1', ly).attr('y2', ly)
    .attr('stroke', item.colour)
    .attr('stroke-width', 2)
    .attr('stroke-dasharray', '7.7,3.3');
  legend.append('text')
    .attr('x', 408).attr('y', ly + 7)
    .text(item.label);
});

// ---- axis hint arrows ----
var arrowStyle = function(sel) {
  sel.attr('fill', 'black').attr('fill-opacity', 0.3)
    .attr('stroke', 'black').attr('stroke-opacity', 0.3)
    .attr('stroke-width', 1.2);
};
svg.append('polygon')
  .attr('points', '85,894 85,827 77,827 92.5,777 108,827 100,827 100,894')
  .call(arrowStyle);
svg.append('polygon')
  .attr('points', '100,872 232,872 232,861 258,883 232,905 232,894 100,894')
  .call(arrowStyle);

svg.append('text')
  .attr('class', 'note')
  .attr('transform', 'translate(68,862) rotate(-90)')
  .attr('text-anchor', 'middle')
  .text('Rel. Flux');

var wl = svg.append('text')
  .attr('class', 'note')
  .attr('x', 88).attr('y', 927);
wl.append('tspan').text('Wavelength (');
wl.append('tspan').attr('font-style', 'italic').attr('font-weight', 'normal').text('Å');
wl.append('tspan').text(')');

</script>
</body>
</html>
